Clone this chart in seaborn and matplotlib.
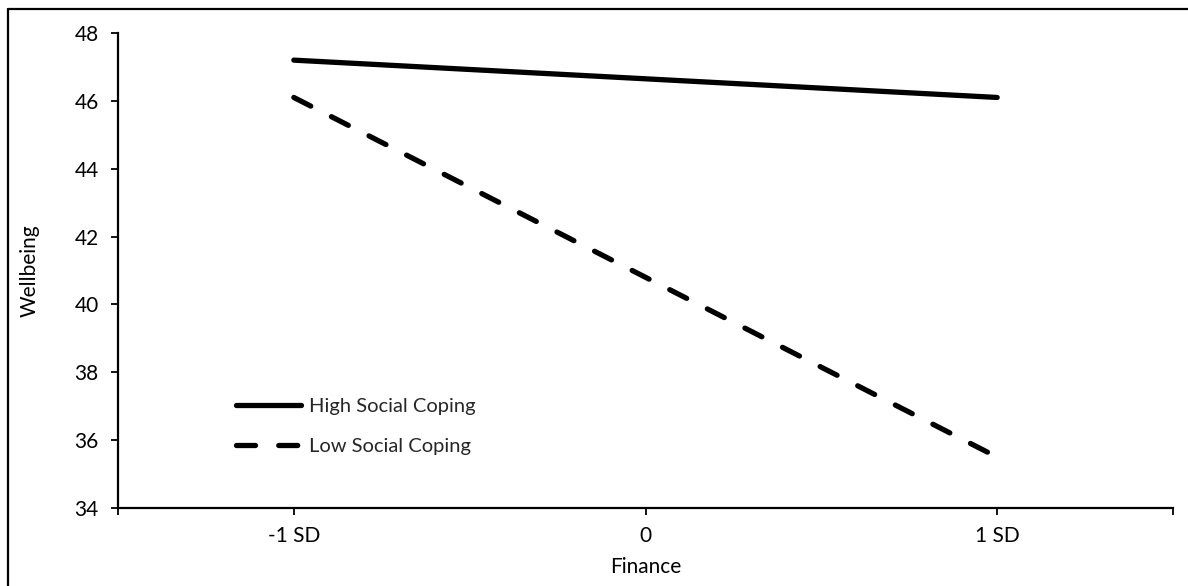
import matplotlib
matplotlib.use("Agg")
import matplotlib.pyplot as plt
import seaborn as sns
import pandas as pd
from matplotlib.lines import Line2D

# ---- data ----
categories = ["-1 SD", "0", "1 SD"]
high_social = [47.2, 46.65, 46.1]
low_social = [46.1, 40.8, 35.5]
series_names = ["High Social Coping", "Low Social Coping"]
y_ticks = [34, 36, 38, 40, 42, 44, 46, 48]

df = pd.DataFrame({
    "Finance": categories * 2,
    "Wellbeing": high_social + low_social,
    "Group": [series_names[0]] * 3 + [series_names[1]] * 3,
})

sns.set_theme(style="white")
plt.rcParams["font.family"] = ["Lato", "DejaVu Sans"]

fig = plt.figure(figsize=(11.88, 5.86), dpi=100)
ax = fig.add_axes([118 / 1188, 1 - 508 / 586, (1173 - 118) / 1188, (508 - 33) / 586])

sns.lineplot(data=df, x="Finance", y="Wellbeing", hue="Group", style="Group",
             palette={series_names[0]: "black", series_names[1]: "black"},
             dashes={series_names[0]: "", series_names[1]: (3.6, 4.4)},
             linewidth=3.8, ax=ax, sort=False, legend=True)
for ln in ax.lines:
    ln.set_solid_capstyle("round")
    ln.set_dash_capstyle("round")

ax.set_xlim(-0.5, 2.5)
ax.set_ylim(34, 48)
ax.set_yticks(y_ticks)
ax.set_yticklabels([str(v) for v in y_ticks])
ax.set_xticks([-0.5, 2.5], minor=True)

for s in ["top", "right"]:
    ax.spines[s].set_visible(False)
for s in ["left", "bottom"]:
    ax.spines[s].set_visible(True)
    ax.spines[s].set_color("black")
    ax.spines[s].set_linewidth(1.6)

ax.tick_params(axis="both", which="both", direction="out", length=5, width=1.3,
               color="black", labelsize=15, labelcolor="black")
ax.tick_params(axis="y", left=True, pad=9)
ax.tick_params(axis="x", bottom=True, pad=8)
ax.tick_params(axis="x", which="minor", bottom=True, length=5)

ax.set_xlabel("Finance", fontsize=15, color="black", labelpad=8)
ax.set_ylabel("Wellbeing", fontsize=15, color="black", labelpad=25)

leg = ax.legend(loc="upper left", bbox_to_anchor=((226 - 118) / 1055, (508 - 388) / 475),
                frameon=False, fontsize=14.5, handlelength=3.2, handletextpad=0.4,
                labelspacing=1.15, borderpad=0)
for h in leg.get_lines():
    h.set_linewidth(3.8)
    h.set_solid_capstyle("round")
    h.set_dash_capstyle("round")

# figure frame lines (left and top)
fig.add_artist(Line2D([8 / 1188, 8 / 1188], [0, 1 - 9 / 586], transform=fig.transFigure,
                      color="black", lw=1.6))
fig.add_artist(Line2D([8 / 1188, 1], [1 - 9 / 586, 1 - 9 / 586], transform=fig.transFigure,
                      color="black", lw=1.6))

fig.savefig("out.png", dpi=100, facecolor="white")
